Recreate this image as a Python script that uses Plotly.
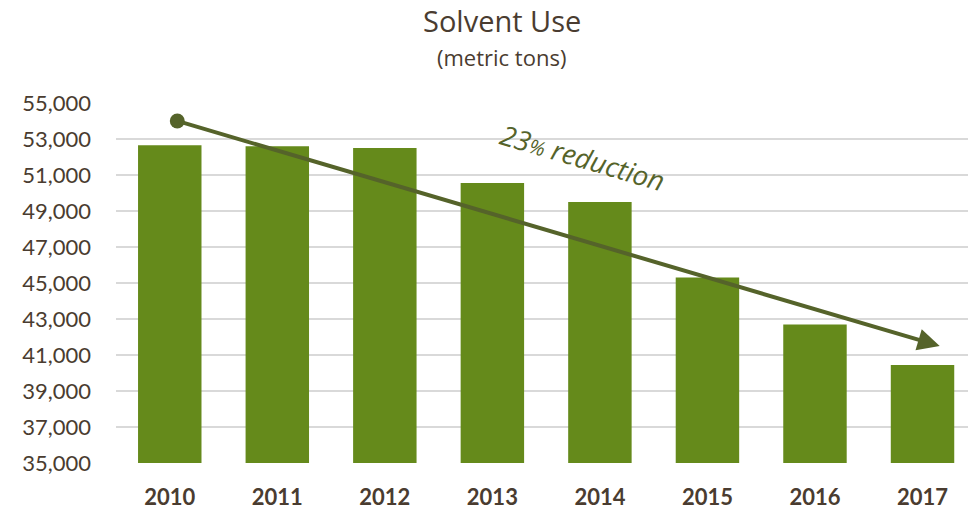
import plotly.graph_objects as go

years = ["2010", "2011", "2012", "2013", "2014", "2015", "2016", "2017"]
solvent_use = [52650, 52600, 52500, 50550, 49500, 45300, 42700, 40450]
y_ticks = [35000, 37000, 39000, 41000, 43000, 45000, 47000, 49000, 51000, 53000, 55000]
y_tick_labels = [f"{v:,}" for v in y_ticks]

trend_start = (0.07, 54000)
trend_end = (7.16, 41500)
trend_label = "23<span style='font-size:20px'>%</span> reduction"

bar_color = "#658a1b"
arrow_color = "#55632a"
text_color = "#4a3c30"

fig = go.Figure()
fig.add_trace(go.Bar(
    x=list(range(len(years))), y=solvent_use,
    marker=dict(color=bar_color, line=dict(width=0)),
    width=0.59, hoverinfo="skip", showlegend=False,
))
fig.add_trace(go.Scatter(
    x=[trend_start[0]], y=[trend_start[1]], mode="markers",
    marker=dict(color=arrow_color, size=15), showlegend=False, hoverinfo="skip",
))
fig.add_annotation(
    x=trend_end[0], y=trend_end[1], ax=trend_start[0], ay=trend_start[1],
    xref="x", yref="y", axref="x", ayref="y",
    showarrow=True, arrowhead=2, arrowsize=1.1, arrowwidth=4, arrowcolor=arrow_color,
    text="",
)
fig.add_annotation(
    x=3.84, y=52000, xref="x", yref="y", showarrow=False,
    text="<i>" + trend_label + "</i>", textangle=16.4,
    font=dict(family="Open Sans", size=27.5, color=arrow_color),
)
fig.add_annotation(
    x=0.453, y=1.2278, xref="paper", yref="paper",
    text="Solvent Use", showarrow=False, xanchor="center", yanchor="middle",
    font=dict(family="Open Sans", size=29, color=text_color),
)
fig.add_annotation(
    x=0.453, y=1.1278, xref="paper", yref="paper",
    text="(metric tons)", showarrow=False, xanchor="center", yanchor="middle",
    font=dict(family="Open Sans", size=22, color=text_color),
)

fig.update_layout(
    width=968, height=513,
    margin=dict(l=116, r=0, t=103, b=50),
    plot_bgcolor="white", paper_bgcolor="white",
    xaxis=dict(
        range=[-0.5, 7.423], tickmode="array", tickvals=list(range(len(years))),
        ticktext=years, showgrid=False, zeroline=False, showline=False,
        tickfont=dict(family="Lato", size=22, color=text_color, weight="bold"),
        ticklabelstandoff=19, fixedrange=True,
    ),
    yaxis=dict(
        range=[35000, 55000], tickmode="array", tickvals=y_ticks, ticktext=y_tick_labels,
        showgrid=True, gridcolor="#d9d9d9", gridwidth=1.5, zeroline=False, showline=False,
        tickfont=dict(family="Lato", size=22, color=text_color),
        ticklabelstandoff=24, fixedrange=True,
    ),
    bargap=0.41,
)
fig.write_html(
    "out.html",
    config={"displayModeBar": False},
    post_script="document.body.style.margin='0';document.body.style.overflow='hidden';",
)
